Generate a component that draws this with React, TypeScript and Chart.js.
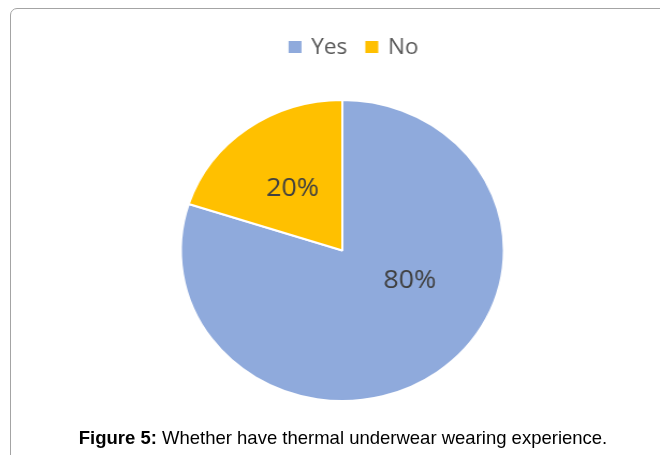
import React, { useEffect, useRef } from "react";
import { Chart, registerables } from "chart.js";

Chart.register(...registerables);

const categories = ["Yes", "No"];
const shares = [80, 20];
const sliceColors = ["#8FAADC", "#FFC000"];
const captionBold = "Figure 5:";
const captionText = " Whether have thermal underwear wearing experience.";

const STRETCH = 1.0732;

const topLegend = {
  id: "topLegend",
  afterDraw(chart: any, _args: any, opts: any) {
    const ctx = chart.ctx;
    const labels: string[] = chart.data.labels;
    const colors: string[] = chart.data.datasets[0].backgroundColor;
    ctx.save();
    ctx.font = opts.font;
    const widths = labels.map((l) => ctx.measureText(l).width);
    let total = 0;
    widths.forEach((w, i) => {
      total += opts.box + opts.gap + w + (i < widths.length - 1 ? opts.itemGap : 0);
    });
    let x = opts.centerX - total / 2;
    ctx.textBaseline = "middle";
    ctx.textAlign = "left";
    labels.forEach((l, i) => {
      ctx.fillStyle = colors[i];
      ctx.fillRect(x, opts.centerY - opts.box / 2, opts.box, opts.box);
      x += opts.box + opts.gap;
      ctx.fillStyle = opts.color;
      ctx.fillText(l, x, opts.centerY + 1);
      x += widths[i] + opts.itemGap;
    });
    ctx.restore();
  },
};

const sliceLabels = {
  id: "sliceLabels",
  afterDatasetsDraw(chart: any, _args: any, opts: any) {
    const ctx = chart.ctx;
    const meta = chart.getDatasetMeta(0);
    const data: number[] = chart.data.datasets[0].data;
    const sum = data.reduce((a, b) => a + b, 0);
    ctx.save();
    ctx.font = opts.font;
    ctx.fillStyle = opts.color;
    ctx.textAlign = "center";
    ctx.textBaseline = "middle";
    meta.data.forEach((arc: any, i: number) => {
      const p = arc.getProps(["x", "y", "startAngle", "endAngle", "outerRadius"], true);
      const mid = (p.startAngle + p.endAngle) / 2 + (opts.angleShift[i] * Math.PI) / 180;
      const r = p.outerRadius * opts.radiusFrac[i];
      const tx = p.x + Math.cos(mid) * r;
      const ty = p.y + Math.sin(mid) * r;
      ctx.fillText(`${Math.round((data[i] / sum) * 100)}%`, tx, ty);
    });
    ctx.restore();
  },
};

export default function App() {
  const canvasRef = useRef<HTMLCanvasElement | null>(null);

  useEffect(() => {
    if (!canvasRef.current) return;
    const chart = new Chart(canvasRef.current, {
      type: "pie",
      data: {
        labels: categories,
        datasets: [
          {
            data: shares,
            backgroundColor: sliceColors,
            borderColor: "#ffffff",
            borderWidth: 2,
          },
        ],
      },
      options: {
        responsive: false,
        animation: false,
        events: [],
        layout: { padding: { left: 23, right: 0, top: 99, bottom: 53 } },
        plugins: {
          legend: { display: false },
          tooltip: { enabled: false },
          topLegend: {
            centerX: 329.4,
            centerY: 47,
            box: 12,
            gap: 9,
            itemGap: 17,
            font: "21px 'Open Sans'",
            color: "#595959",
          },
          sliceLabels: {
            font: "25px 'Open Sans'",
            color: "#404040",
            angleShift: [-28, -1],
            radiusFrac: [0.465, 0.513],
          },
        } as any,
      },
      plugins: [topLegend, sliceLabels],
    });
    return () => chart.destroy();
  }, []);

  return (
    <div
      style={{
        position: "fixed",
        left: 0,
        top: 0,
        width: 660,
        height: 455,
        background: "#ffffff",
        overflow: "hidden",
      }}
    >
      <div
        style={{
          position: "absolute",
          left: 10,
          top: 8,
          width: 700,
          height: 520,
          border: "1.5px solid #a4a4a4",
          borderRadius: 7,
          boxSizing: "border-box",
        }}
      />
      <div
        style={{
          position: "absolute",
          left: 0,
          top: 0,
          width: 615,
          height: 455,
          transform: `scaleX(${STRETCH})`,
          transformOrigin: "0 0",
        }}
      >
        <canvas ref={canvasRef} width={615} height={455} style={{ display: "block" }} />
      </div>
      <div
        style={{
          position: "absolute",
          left: 0,
          top: 429,
          width: 686,
          textAlign: "center",
          fontFamily: "'Liberation Sans', Arial, sans-serif",
          fontSize: 18.5,
          lineHeight: "18px",
          color: "#000000",
          whiteSpace: "nowrap",
        }}
      >
        <b>{captionBold}</b>
        {captionText}
      </div>
    </div>
  );
}
